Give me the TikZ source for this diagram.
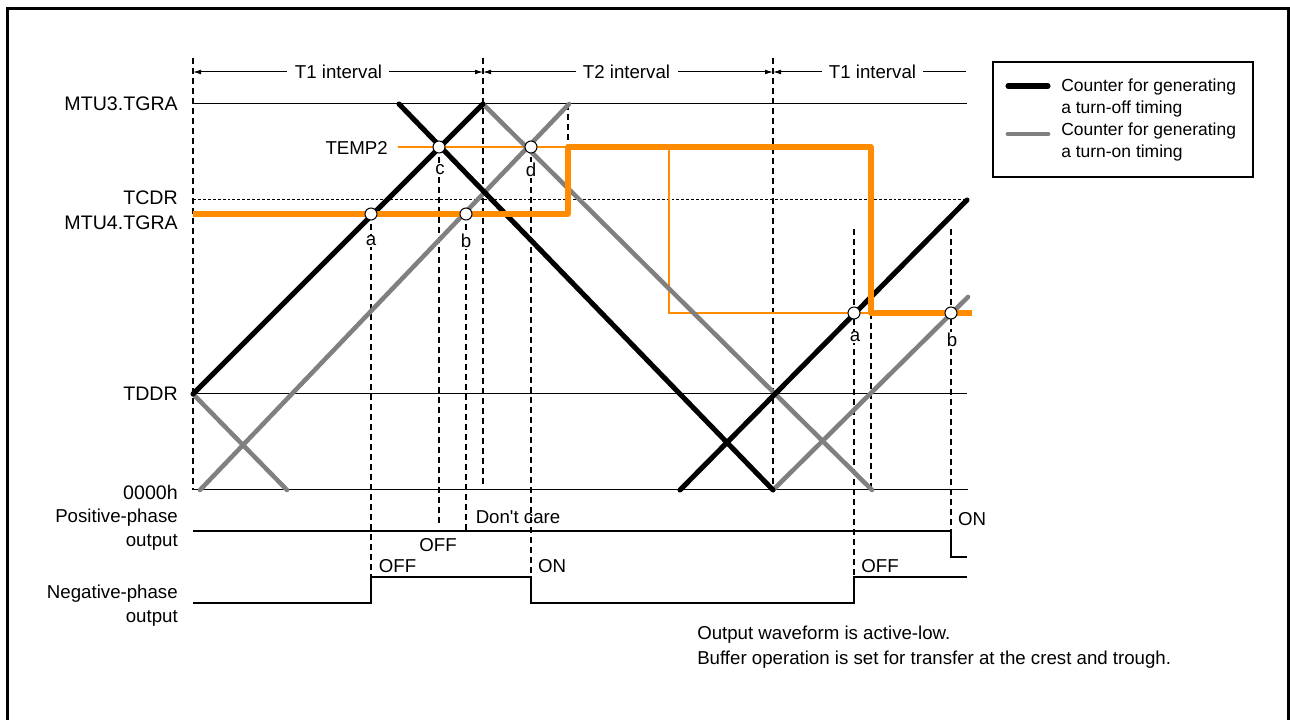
\documentclass[tikz,border=0pt]{standalone}
\usepackage{fontspec}
\setmainfont{Liberation Sans}
\newfontfamily\plainfont{Liberation Sans}
\usetikzlibrary{arrows.meta}
\definecolor{cOrange}{RGB}{255,140,0}
\definecolor{cGray}{RGB}{128,128,128}
\begin{document}
\begin{tikzpicture}[x=0.75pt,y=-0.75pt,
  font=\fontsize{14}{18}\selectfont,
  lbl/.style={inner sep=0pt,anchor=east,align=right},
  reglbl/.style={lbl,font=\fontsize{14.7}{18}\selectfont},
  txt/.style={inner sep=0pt},
  letter/.style={fill=white,inner sep=1pt},
  ref/.style={line width=0.75pt},
  guide/.style={line width=0.8pt,dash pattern=on 4.5pt off 3pt},
  dotline/.style={line width=0.75pt,dash pattern=on 2.2pt off 1.5pt},
  offctr/.style={line width=3.8pt,black,line cap=round},
  onctr/.style={line width=3.4pt,cGray,line cap=round},
  ocomp/.style={line width=3.8pt,cOrange,line join=round},
  othin/.style={line width=1.1pt,cOrange},
  outw/.style={line width=1.6pt,black},
  dot/.style={circle,draw=black,line width=0.75pt,fill=white,minimum size=9pt,inner sep=0pt},
  arr/.style={line width=0.75pt,-{Latex[length=6pt,width=3.6pt]}}
]
\useasboundingbox (0,0) rectangle (1290,720);
% frame
\draw[line width=2.4pt] (7.5,8.5) rectangle (1288.5,740);

% interval guides
\draw[guide] (193,58) -- (193,490);
\draw[guide] (483,58) -- (483,486);
\draw[guide] (773,58) -- (773,490);
\draw[guide] (568,104) -- (568,147);

% interval labels and arrows
\coordinate (v0) at (193,72);
\coordinate (v1) at (483,72);
\coordinate (v2) at (773,72);
\coordinate (v3) at (966,72);
\node[txt] (t1a) at (338.5,72) {T1 interval};
\node[txt] (t2) at (626.5,72) {T2 interval};
\node[txt] (t1b) at (872.5,72) {T1 interval};
\draw[arr] ([xshift=-6pt]t1a.west) -- (v0);
\draw[arr] ([xshift=5pt]t1a.east) -- (v1);
\draw[arr] ([xshift=-5pt]t2.west) -- (v1);
\draw[arr] ([xshift=6pt]t2.east) -- (v2);
\draw[arr] ([xshift=-5pt]t1b.west) -- (v2);
\draw[line width=0.75pt] ([xshift=5pt]t1b.east) -- (v3);

% reference levels
\draw[ref] (193,104) -- (967,104);
\draw[dotline] (193,200) -- (967,200);
\draw[ref] (193,394) -- (967,394);
\draw[ref] (193,490) -- (968,490);

% left labels
\node[reglbl] (lMTU3) at (178,104) {MTU3.TGRA};
\node[reglbl] (lTCDR) at (178,198) {TCDR};
\node[reglbl] (lMTU4) at (178,223) {MTU4.TGRA};
\node[reglbl] (lTDDR) at (178,394) {TDDR};
\node[reglbl] (lZero) at (178,492) {0000h};
\node[lbl] (lPos) at (178,530) {Positive-phase\\output};
\node[lbl] (lNeg) at (178,606) {Negative-phase\\output};

% dashed markers
\draw[guide] (371,214) -- (371,577);
\draw[guide] (439,147) -- (439,526);
\draw[guide] (466,214) -- (466,531);
\draw[guide] (531,147) -- (531,577);
\draw[guide] (854,229) -- (854,577);
\draw[guide] (871,313) -- (871,490);
\draw[guide] (951,229) -- (951,531);

% TEMP2
\node[lbl] (lTemp) at (388,148) {TEMP2};
\draw[othin] (398,147) -- (568,147);
\draw[othin] (669,147) -- (669,313) -- (871,313);

% counters: turn-on (gray)
\draw[onctr] (193,394) -- (287,490);
\draw[onctr] (200,490) -- (569,104);
\draw[onctr] (483,104) -- (872,490);
\draw[onctr] (773,490) -- (968,297);
% counters: turn-off (black)
\draw[offctr] (193,394) -- (483,104);
\draw[offctr] (399,104) -- (773,490);
\draw[offctr] (680,490) -- (967,200);

% compare register (orange)
\draw[ocomp] (193,214) -- (568,214) -- (568,147) -- (871,147) -- (871,313) -- (972,313);

% crossing points
\node[dot] (pa) at (371,214) {};
\node[dot] (pb) at (466,214) {};
\node[dot] (pc) at (439,147) {};
\node[dot] (pd) at (531,147) {};
\node[dot] (pa2) at (854,313) {};
\node[dot] (pb2) at (951,313) {};
\node[letter] (la) at (371,241) {a};
\node[letter] (lb) at (466,241) {b};
\node[letter] (lc) at (440,170) {c};
\node[letter] (ld) at (531,170) {d};
\node[letter] (la2) at (855,337) {a};
\node[letter] (lb2) at (952,340) {b};

% outputs
\draw[outw] (193,531) -- (951,531) -- (951,557) -- (967,557);
\draw[outw] (193,603) -- (371,603) -- (371,577) -- (531,577) -- (531,603) -- (854,603) -- (854,577) -- (967,577);
\node[txt] (dc) at (518,517) {\plainfont Don't care};
\node[txt] (off1) at (438,545) {OFF};
\node[txt] (off2) at (397.5,566) {OFF};
\node[txt] (on1) at (552,566) {ON};
\node[txt] (off3) at (880,566) {OFF};
\node[txt] (on2) at (972,519) {ON};

% notes
\node[txt,anchor=west] (n1) at (697,635) {Output waveform is active-low.};
\node[txt,anchor=west] (n2) at (697,660) {Buffer operation is set for transfer at the crest and trough.};

% legend
\draw[line width=0.9pt] (993,62) rectangle (1253,177);
\draw[line width=3.8pt,line cap=round] (1008,86) -- (1048,86);
\draw[line width=3.6pt,cGray,line cap=round] (1008,134) -- (1048,134);
\begin{scope}[font=\fontsize{13.1}{16}\selectfont]
\node[txt,anchor=west] (g1) at (1061,87) {Counter for generating};
\node[txt,anchor=west] (g2) at (1061,109) {a turn-off timing};
\node[txt,anchor=west] (g3) at (1061,131) {Counter for generating};
\node[txt,anchor=west] (g4) at (1061,153) {a turn-on timing};
\end{scope}
\end{tikzpicture}
\end{document}
